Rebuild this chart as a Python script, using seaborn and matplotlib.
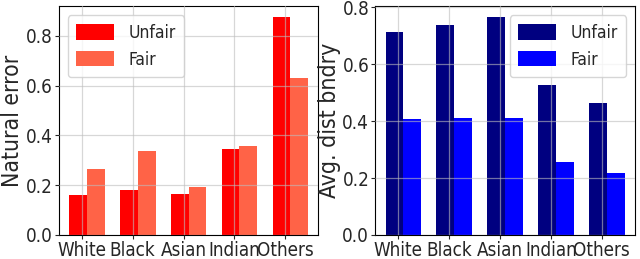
import numpy as np
import pandas as pd
import matplotlib
matplotlib.use("Agg")
import matplotlib.pyplot as plt
import seaborn as sns

# Data
groups = ["White", "Black", "Asian", "Indian", "Others"]
natural_unfair = [0.161, 0.180, 0.164, 0.346, 0.874]
natural_fair = [0.266, 0.336, 0.192, 0.359, 0.632]
dist_unfair = [0.712, 0.738, 0.765, 0.526, 0.464]
dist_fair = [0.406, 0.412, 0.412, 0.256, 0.219]

df_err = pd.DataFrame({
    "group": groups * 2,
    "value": natural_unfair + natural_fair,
    "model": ["Unfair"] * 5 + ["Fair"] * 5,
})
df_dist = pd.DataFrame({
    "group": groups * 2,
    "value": dist_unfair + dist_fair,
    "model": ["Unfair"] * 5 + ["Fair"] * 5,
})

sns.set_style("ticks", {"axes.grid": True, "grid.color": "#bdbdbd",
                        "axes.edgecolor": "black"})
plt.rcParams['font.family'] = ['DejaVu Sans']
plt.rcParams['font.stretch'] = 'condensed'

fig, axes = plt.subplots(1, 2, figsize=(6.4, 2.59), dpi=100)
fig.subplots_adjust(left=0.092, right=0.992, top=0.975, bottom=0.093, wspace=0.22)

panels = [
    (axes[0], df_err, ["#ff0000", "#ff6347"], "Natural error", "upper left"),
    (axes[1], df_dist, ["#000080", "#0000ff"], "Avg. dist bndry", "upper right"),
]

for ax, data, colors, ylabel, loc in panels:
    sns.barplot(data=data, x="group", y="value", hue="model", palette=colors,
                width=0.7, saturation=1, linewidth=0,
                ax=ax, errorbar=None)
    ax.set_xlim(-0.55, 4.55)
    # ticks / grid lines sit a bit left of each bar pair
    ax.set_xticks(np.arange(len(groups)) - 0.1, groups)
    ax.set_xlabel("")
    ax.set_ylabel(ylabel, fontsize=16.5, labelpad=1)
    ax.tick_params(axis="both", labelsize=13.5, length=3, pad=1.5)
    ax.set_ylim(0, max(data["value"]) * 1.05)
    ax.set_yticks([0.0, 0.2, 0.4, 0.6, 0.8])
    ax.set_axisbelow(False)
    ax.grid(True, linewidth=0.9, alpha=0.6)
    ax.legend(loc=loc, fontsize=12.5, handlelength=2.2, handleheight=1.0,
              framealpha=0.8, borderpad=0.5, labelspacing=0.5)
    for s in ax.spines.values():
        s.set_linewidth(0.8)

plt.savefig("out.png", dpi=100)
